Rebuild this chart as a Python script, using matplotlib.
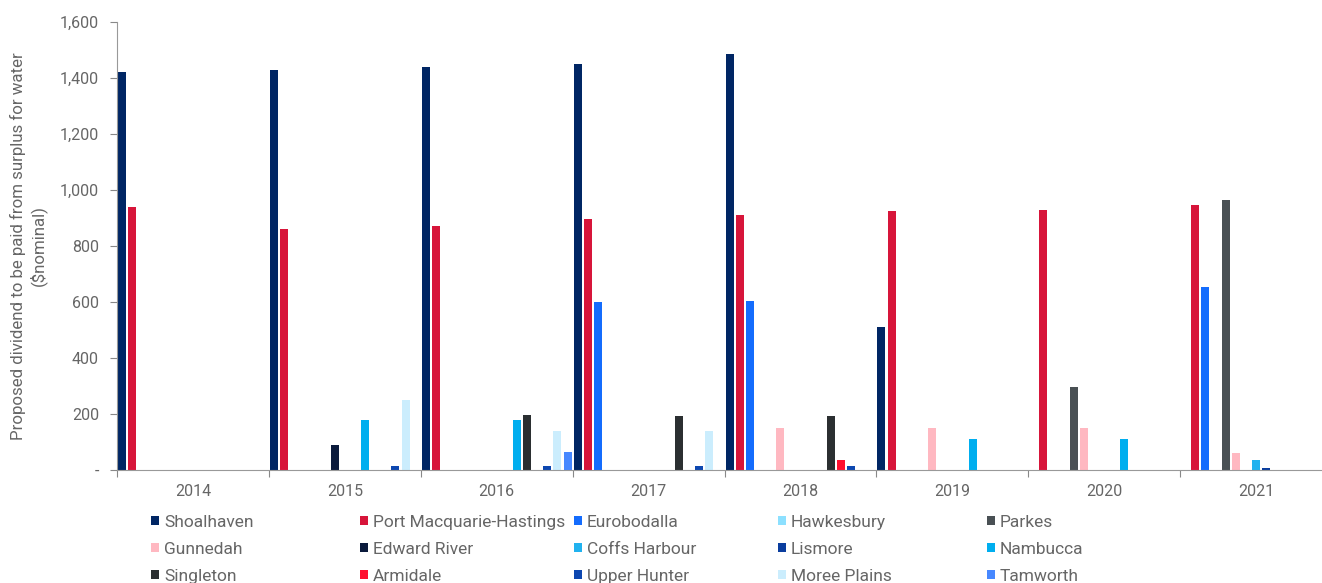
import numpy as np
import matplotlib
matplotlib.use("Agg")
import matplotlib.pyplot as plt
from matplotlib.patches import Patch
from matplotlib.ticker import FuncFormatter

plt.rcParams['font.family'] = ['Roboto', 'DejaVu Sans']

years = ["2014", "2015", "2016", "2017", "2018", "2019", "2020", "2021"]

# one list per council, one value per year (0 = no dividend)
councils = ["Shoalhaven", "Port Macquarie-Hastings", "Eurobodalla", "Hawkesbury", "Parkes",
            "Gunnedah", "Edward River", "Coffs Harbour", "Lismore", "Nambucca",
            "Singleton", "Armidale", "Upper Hunter", "Moree Plains", "Tamworth"]
shoalhaven   = [1420, 1430, 1440, 1450, 1485, 510, 0, 0]
port_macq    = [940, 860, 870, 895, 910, 925, 930, 945]
eurobodalla  = [0, 0, 0, 600, 605, 0, 0, 655]
hawkesbury   = [0, 0, 0, 0, 0, 0, 0, 0]
parkes       = [0, 0, 0, 0, 0, 0, 295, 965]
gunnedah     = [0, 0, 0, 0, 150, 150, 150, 60]
edward_river = [0, 90, 0, 0, 0, 0, 0, 0]
coffs        = [0, 0, 0, 0, 0, 0, 0, 35]
lismore      = [0, 0, 0, 0, 0, 0, 0, 8]
nambucca     = [0, 180, 180, 0, 0, 110, 110, 0]
singleton    = [0, 0, 195, 193, 193, 0, 0, 0]
armidale     = [0, 0, 0, 0, 35, 0, 0, 0]
upper_hunter = [0, 15, 15, 15, 15, 0, 0, 0]
moree        = [0, 250, 140, 140, 0, 0, 0, 0]
tamworth     = [0, 0, 65, 0, 0, 0, 0, 0]

series = [shoalhaven, port_macq, eurobodalla, hawkesbury, parkes,
          gunnedah, edward_river, coffs, lismore, nambucca,
          singleton, armidale, upper_hunter, moree, tamworth]
colors = ["#002664", "#d7153a", "#146cfd", "#8ce0ff", "#495054",
          "#ffb8c1", "#0a1a3c", "#21b2ef", "#0a3d9e", "#00aeef",
          "#2b2f31", "#ff0f2f", "#0d47b0", "#cbedfd", "#4788ff"]

txt = "#666666"
fig = plt.figure(figsize=(13.22, 5.83), dpi=100)
ax = fig.add_axes([117 / 1322, 1 - 470 / 583, 1215 / 1322, 448 / 583])

n = len(series)
x = np.arange(len(years))
slot = 1.0 / n
for j, vals in enumerate(series):
    ax.bar(x + (j + 0.5) * slot, vals, width=slot * 0.8, color=colors[j], linewidth=0)

ax.set_xlim(0, len(years))
ax.set_ylim(0, 1600)
ax.set_yticks(range(0, 1601, 200))
ax.yaxis.set_major_formatter(FuncFormatter(lambda v, p: "-" if v == 0 else "{:,.0f}".format(v)))
ax.set_xticks(np.arange(len(years) + 1))
ax.set_xticklabels([])
ax.set_xticks(x + 0.5, minor=True)
ax.set_xticklabels(years, minor=True)
ax.tick_params(axis='x', which='minor', length=0, pad=10, labelsize=11.5, labelcolor=txt)
ax.tick_params(axis='x', which='major', length=5, color="#888888")
ax.tick_params(axis='y', length=5, color="#888888", labelsize=11.5, labelcolor=txt, pad=8)

for s in ["top", "right"]:
    ax.spines[s].set_visible(False)
for s in ["left", "bottom"]:
    ax.spines[s].set_color("#999999")

ax.set_ylabel("Proposed dividend to be paid from surplus for water\n($nominal)", fontsize=12.2, color=txt)
ax.yaxis.set_label_coords(-0.058, 0.5)

# legend laid out row-wise, 5 columns at fixed positions
col_x = [151, 360, 574, 778, 987]
for c in range(5):
    idx = [c, c + 5, c + 10]
    handles = [Patch(facecolor=colors[i], edgecolor="none") for i in idx]
    leg = fig.legend(handles, [councils[i] for i in idx], loc="upper left",
                     bbox_to_anchor=(col_x[c] / 1322, 1 - 515 / 583),
                     frameon=False, fontsize=12.5, borderpad=0, borderaxespad=0,
                     handlelength=0.45, handleheight=0.45, handletextpad=0.3,
                     labelspacing=0.68)
    for t in leg.get_texts():
        t.set_color(txt)

fig.savefig("out.png", dpi=100)
